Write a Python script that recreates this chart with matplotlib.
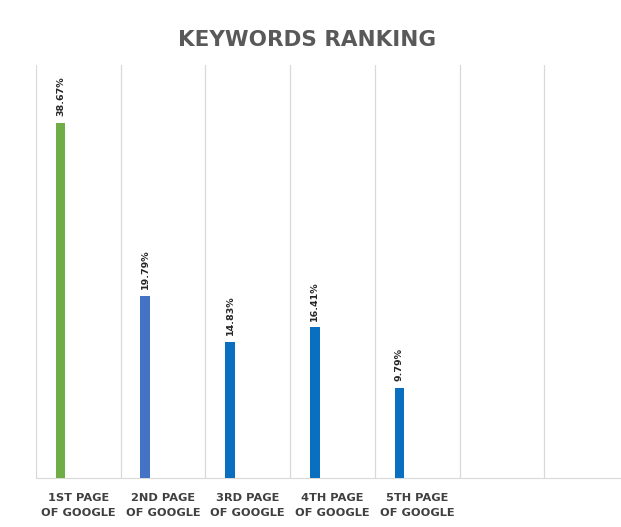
import numpy as np
import matplotlib.pyplot as plt

categories = ["1ST PAGE\nOF GOOGLE", "2ND PAGE\nOF GOOGLE", "3RD PAGE\nOF GOOGLE",
              "4TH PAGE\nOF GOOGLE", "5TH PAGE\nOF GOOGLE", "", ""]
values = [38.67, 19.79, 14.83, 16.41, 9.79]
labels = ["38.67%", "19.79%", "14.83%", "16.41%", "9.79%"]
colors = ["#70AD47", "#4472C4", "#0A6FC0", "#0A6FC0", "#0A6FC0"]

plt.rcParams['font.family'] = ['DejaVu Sans']

fig = plt.figure(figsize=(6.21, 5.27), dpi=100)
ax = fig.add_axes([36/621, 49/527, 593/621, 413/527])

x = np.arange(len(values))
ax.bar(x + 0.29, values, width=0.115, color=colors, zorder=3)
for xi, v, lab in zip(x, values, labels):
    ax.text(xi + 0.29, v + 0.75, lab, rotation=90, ha='center', va='bottom',
            fontsize=6.8, fontweight='bold', color='#262626')

ax.set_xlim(0, 7)
ax.set_ylim(0, 45)
for g in range(8):
    ax.axvline(g, color='#D9D9D9', lw=0.9, zorder=1)
ax.set_xticks(np.arange(7) + 0.5)
ax.set_xticklabels(categories, fontsize=8.2, fontweight='bold', color='#404040', linespacing=1.55)
ax.tick_params(axis='x', length=0, pad=11)
ax.set_yticks([])
for s in ['top', 'left', 'right']:
    ax.spines[s].set_visible(False)
ax.spines['bottom'].set_color('#D9D9D9')

fig.text(307/621, 1 - 40/527, "KEYWORDS RANKING", ha='center', va='center',
         fontsize=15.5, fontweight='bold', color='#595959')

fig.savefig("out.png", dpi=100)
